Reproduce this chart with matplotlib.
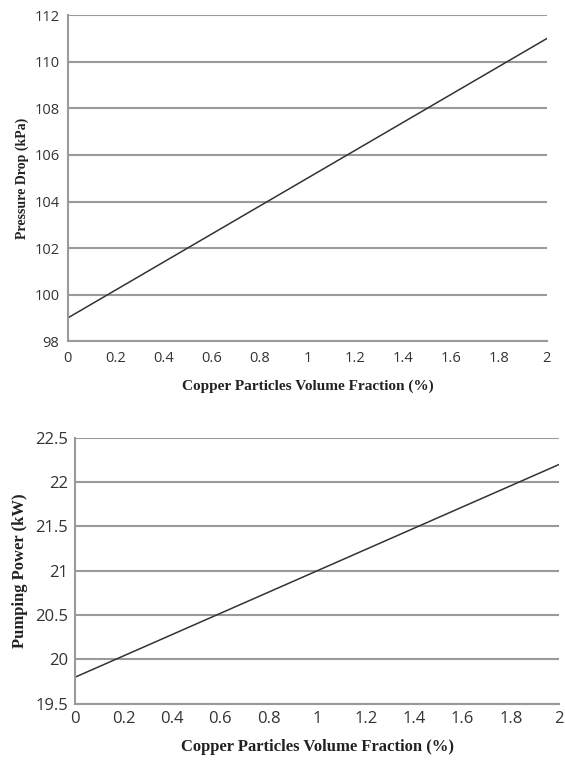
import matplotlib
matplotlib.use("Agg")
import matplotlib.pyplot as plt

volume_fraction = [0.0, 0.5, 1.0, 1.5, 2.0]
pressure_drop = [99.0, 102.0, 105.0, 108.0, 111.0]
pumping_power = [19.8, 20.4, 21.0, 21.6, 22.2]

x_ticks = [0, 0.2, 0.4, 0.6, 0.8, 1, 1.2, 1.4, 1.6, 1.8, 2]
x_tick_labels = ["0", "0.2", "0.4", "0.6", "0.8", "1", "1.2", "1.4", "1.6", "1.8", "2"]
pd_ticks = [98, 100, 102, 104, 106, 108, 110, 112]
pp_ticks = [19.5, 20, 20.5, 21, 21.5, 22, 22.5]
pp_tick_labels = ["19.5", "20", "20.5", "21", "21.5", "22", "22.5"]

fig = plt.figure(figsize=(5.65, 7.6), dpi=100)

tick_font = "Open Sans"
label_font = "Liberation Serif"
grid_color = "#9a9a9a"
line_color = "#333333"

def style(ax, tick_size):
    ax.set_facecolor("white")
    for s in ["top", "right"]:
        ax.spines[s].set_visible(False)
    for s in ["left", "bottom"]:
        ax.spines[s].set_color(grid_color)
        ax.spines[s].set_linewidth(1.5)
    ax.grid(axis="y", color=grid_color, linewidth=1.5)
    ax.set_axisbelow(True)
    ax.tick_params(length=0, labelsize=tick_size, colors="#333333")
    for lab in ax.get_xticklabels() + ax.get_yticklabels():
        lab.set_family(tick_font)

# Top: pressure drop
ax1 = fig.add_axes([0.120, 0.551, 0.848, 0.429])
ax1.plot(volume_fraction, pressure_drop, color=line_color, linewidth=1.1)
ax1.set_xlim(0, 2)
ax1.set_ylim(98, 112)
ax1.set_xticks(x_ticks)
ax1.set_xticklabels(x_tick_labels)
ax1.set_yticks(pd_ticks)
style(ax1, 10.5)
ax1.tick_params(axis="y", pad=6)
ax1.tick_params(axis="x", pad=7)
ax1.set_ylabel("Pressure Drop (kPa)", family=label_font, fontweight="bold",
               fontsize=10, color="#222222", labelpad=4)
ax1.set_xlabel("Copper Particles Volume Fraction (%)", family=label_font,
               fontweight="bold", fontsize=11, color="#222222", labelpad=10)

# Bottom: pumping power
ax2 = fig.add_axes([0.133, 0.074, 0.857, 0.350])
ax2.plot(volume_fraction, pumping_power, color=line_color, linewidth=1.1)
ax2.set_xlim(0, 2)
ax2.set_ylim(19.5, 22.5)
ax2.set_xticks(x_ticks)
ax2.set_xticklabels(x_tick_labels)
ax2.set_yticks(pp_ticks)
ax2.set_yticklabels(pp_tick_labels)
style(ax2, 12)
ax2.tick_params(axis="y", pad=5)
ax2.tick_params(axis="x", pad=5)
ax2.set_ylabel("Pumping Power (kW)", family=label_font, fontweight="bold",
               fontsize=12, color="#222222", labelpad=5)
ax2.set_xlabel("Copper Particles Volume Fraction (%)", family=label_font,
               fontweight="bold", fontsize=12, color="#222222", labelpad=9)

fig.savefig("out.png", dpi=100, facecolor="white")
